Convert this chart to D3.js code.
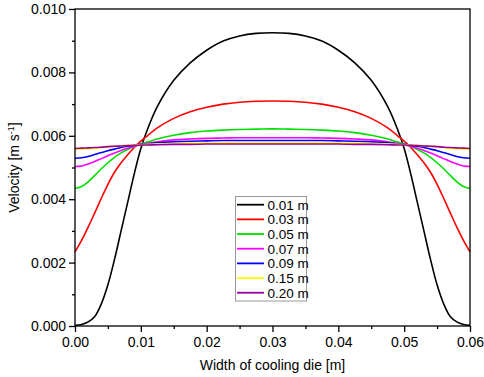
<!DOCTYPE html>
<html><head><meta charset="utf-8">
<script src="https://cdn.jsdelivr.net/npm/d3@7"></script>
<style>body{margin:0;background:#fff;} svg{display:block;font-family:"Liberation Sans",Arial,sans-serif;}</style>
</head><body>
<svg id="c" width="484" height="377"></svg>
<script>
const seriesNames = ["0.01 m","0.03 m","0.05 m","0.07 m","0.09 m","0.15 m","0.20 m"];
const seriesColors = ["#000000","#ff0000","#00e000","#ff00ff","#0000ff","#ffff00","#990099"];
const widthX = [0,0.001,0.002,0.003,0.004,0.005,0.006,0.007,0.008,0.009,0.010,0.011,0.0125,0.015,0.0175,0.020,0.0225,0.025,0.0275,0.030,0.0325,0.035,0.0375,0.040,0.0425,0.045,0.0475,0.049,0.050,0.051,0.052,0.053,0.054,0.055,0.056,0.057,0.058,0.059,0.060];
const v001 = [0.00002,0.00005,0.00013,0.00030,0.00070,0.00130,0.00210,0.00300,0.00390,0.00480,0.00560,0.00620,0.00692,0.00775,0.00830,0.00870,0.00899,0.00915,0.00923,0.00925,0.00923,0.00915,0.00899,0.00870,0.00830,0.00775,0.00692,0.00620,0.00560,0.00480,0.00390,0.00300,0.00210,0.00130,0.00070,0.00030,0.00013,0.00005,0.00002];
const v003 = [0.00234,0.00270,0.00312,0.00357,0.00403,0.00447,0.00485,0.00515,0.00540,0.00563,0.00583,0.00600,0.00625,0.00655,0.00676,0.00690,0.00700,0.00706,0.00709,0.00710,0.00709,0.00706,0.00700,0.00690,0.00676,0.00655,0.00625,0.00600,0.00583,0.00563,0.00540,0.00515,0.00485,0.00447,0.00403,0.00357,0.00312,0.00270,0.00234];
const v005 = [0.00434,0.00440,0.00455,0.00475,0.00496,0.00515,0.00532,0.00546,0.00557,0.00566,0.00574,0.00580,0.00590,0.00602,0.00610,0.00615,0.00618,0.00620,0.00621,0.00622,0.00621,0.00620,0.00618,0.00615,0.00610,0.00602,0.00590,0.00580,0.00574,0.00566,0.00557,0.00546,0.00532,0.00515,0.00496,0.00475,0.00455,0.00440,0.00434];
const v007 = [0.00503,0.00505,0.00511,0.00519,0.00528,0.00537,0.00546,0.00554,0.00561,0.00567,0.00572,0.00576,0.00581,0.00587,0.00590,0.00592,0.00593,0.00594,0.00594,0.00594,0.00594,0.00594,0.00593,0.00592,0.00590,0.00587,0.00581,0.00576,0.00572,0.00567,0.00561,0.00554,0.00546,0.00537,0.00528,0.00519,0.00511,0.00505,0.00503];
const v009 = [0.00529,0.00531,0.00535,0.00541,0.00547,0.00553,0.00558,0.00563,0.00567,0.00570,0.00573,0.00575,0.00578,0.00581,0.00583,0.00584,0.00585,0.00585,0.00585,0.00585,0.00585,0.00585,0.00585,0.00584,0.00583,0.00581,0.00578,0.00575,0.00573,0.00570,0.00567,0.00563,0.00558,0.00553,0.00547,0.00541,0.00535,0.00531,0.00529];
const v015 = [0.00557,0.00558,0.00559,0.00561,0.00563,0.00565,0.00567,0.00569,0.00570,0.00571,0.00572,0.00573,0.00574,0.00575,0.00576,0.00577,0.00577,0.00577,0.00577,0.00577,0.00577,0.00577,0.00577,0.00577,0.00576,0.00575,0.00574,0.00573,0.00572,0.00571,0.00570,0.00569,0.00567,0.00565,0.00563,0.00561,0.00559,0.00558,0.00557];
const v020 = [0.00560,0.00561,0.00562,0.00563,0.00564,0.00566,0.00567,0.00568,0.00569,0.00570,0.00571,0.00571,0.00572,0.00573,0.00573,0.00574,0.00574,0.00574,0.00574,0.00574,0.00574,0.00574,0.00574,0.00574,0.00573,0.00573,0.00572,0.00571,0.00571,0.00570,0.00569,0.00568,0.00567,0.00566,0.00564,0.00563,0.00562,0.00561,0.00560];
const xTicks = [0,0.01,0.02,0.03,0.04,0.05,0.06];
const yTicks = [0,0.002,0.004,0.006,0.008,0.010];
const seriesValues = [v001,v003,v005,v007,v009,v015,v020];

const svg = d3.select("#c");
const L=75, R=470, T=9, B=326;
const x = d3.scaleLinear().domain([0,0.06]).range([L,R]);
const y = d3.scaleLinear().domain([0,0.010]).range([B,T]);

const g = svg.append("g");
const line = d3.line().x(d=>x(d[0])).y(d=>y(d[1])).curve(d3.curveCatmullRom.alpha(0.5));
seriesValues.forEach((vals,i)=>{
  g.append("path").datum(widthX.map((w,j)=>[w,vals[j]]))
   .attr("d",line).attr("fill","none").attr("stroke",seriesColors[i]).attr("stroke-width",1.6);
});

// frame
svg.append("rect").attr("x",L).attr("y",T).attr("width",R-L).attr("height",B-T)
  .attr("fill","none").attr("stroke","#000").attr("stroke-width",1.3);

// axes
const xAxis = svg.append("g").attr("transform",`translate(0,${B})`)
  .call(d3.axisBottom(x).tickValues(xTicks).tickFormat(d3.format(".2f")).tickSize(6).tickPadding(5));
const xMinor = svg.append("g").attr("transform",`translate(0,${B})`)
  .call(d3.axisBottom(x).tickValues(d3.range(0.005,0.06,0.01)).tickFormat("").tickSize(3));
const yAxis = svg.append("g").attr("transform",`translate(${L},0)`)
  .call(d3.axisLeft(y).tickValues(yTicks).tickFormat(d3.format(".3f")).tickSize(6).tickPadding(3));
const yMinor = svg.append("g").attr("transform",`translate(${L},0)`)
  .call(d3.axisLeft(y).tickValues(d3.range(0.001,0.010,0.002)).tickFormat("").tickSize(3));
[xAxis,xMinor,yAxis,yMinor].forEach(a=>{
  a.select(".domain").remove();
  a.selectAll("line").attr("stroke","#000").attr("stroke-width",1.3);
  a.selectAll("text").attr("font-size",14).attr("fill","#000").attr("font-family","Liberation Sans, Arial, sans-serif");
});

// titles
svg.append("text").attr("x",(L+R)/2).attr("y",370).attr("text-anchor","middle")
  .attr("font-size",14).text("Width of cooling die [m]");
const yt = svg.append("text").attr("transform",`translate(19,${(T+B)/2}) rotate(-90)`)
  .attr("text-anchor","middle").attr("font-size",14);
yt.append("tspan").text("Velocity [m s");
yt.append("tspan").attr("dy",-5).attr("font-size",9).text("-1");
yt.append("tspan").attr("dy",5).text("]");

// legend
const lg = svg.append("g");
lg.append("rect").attr("x",235.5).attr("y",196.5).attr("width",71).attr("height",104.5)
  .attr("fill","#fff").attr("stroke","#999").attr("stroke-width",1);
seriesNames.forEach((n,i)=>{
  const yy = 204.7 + i*14.67;
  lg.append("line").attr("x1",237).attr("x2",264).attr("y1",yy).attr("y2",yy)
    .attr("stroke",seriesColors[i]).attr("stroke-width",1.8);
  lg.append("text").attr("x",267.5).attr("y",yy+4.8).attr("font-size",13.5).text(n);
});
</script>
</body></html>
